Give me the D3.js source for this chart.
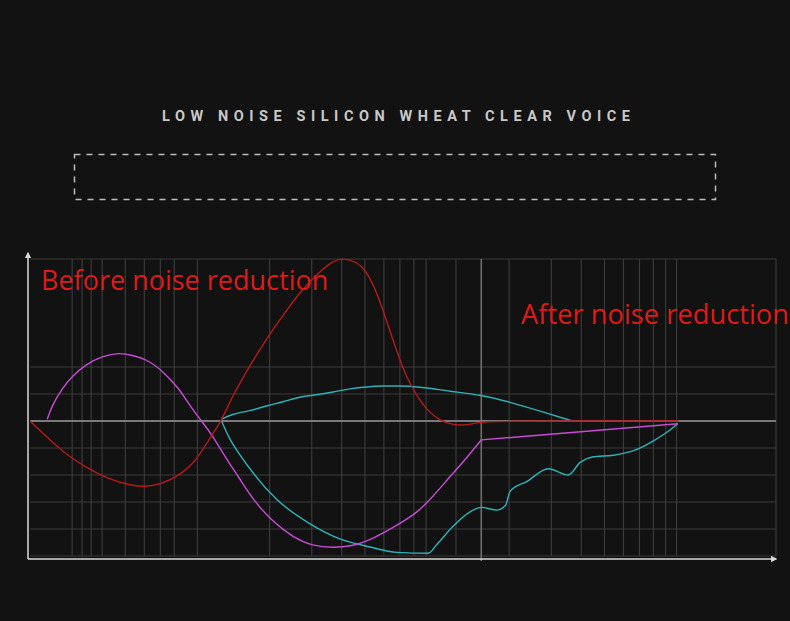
<!DOCTYPE html>
<html>
<head>
<meta charset="utf-8">
<script src="https://cdn.jsdelivr.net/npm/d3@7"></script>
<style>
  body { margin: 0; background: #121212; }
  svg { display: block; }
</style>
</head>
<body>
<div id="okvir"></div>
<script>
// Podaci ocitani sa slike (frekvencija u Hz, razina u dB)
const naslov = "LOW NOISE SILICON WHEAT CLEAR VOICE"
const oznakaPrije = "Before noise reduction"
const oznakaPoslije = "After noise reduction"

const gridFrekvencije = [30, 33, 36, 40, 50, 60, 70, 80, 100, 200, 300, 400, 500, 600, 700, 800, 900, 1200,
  2000, 3000, 4000, 5000, 6000, 7000, 8000, 9000, 10000, 26000]
const razdjelnik = 1530
const gridRazine = [18, 6, 3, -3, -6, -9, -12, -15]

const crvenaFrek = [20, 24.7, 29, 34, 42, 53, 61, 69, 84, 99, 112, 126, 140, 165, 194, 227, 267, 315, 367, 404,
  463, 509, 561, 618, 680, 749, 825, 908, 1030, 1170, 1340, 1480, 1530, 10200]
const crvenaDb = [0, -2.3, -3.9, -5.1, -6.4, -7.2, -7.3, -7.1, -6.1, -4.4, -2.0, 0, 2.8, 6.1, 9.1, 11.7, 14.3, 16.3, 17.8, 18.1,
  17.7, 16.6, 14.3, 11.0, 7.7, 4.7, 2.8, 1.2, 0, -0.45, -0.45, -0.2, 0, 0]

const magentaFrek = [23.6, 24.7, 27.2, 30, 34.3, 40, 47.2, 53.5, 61, 71.4, 84, 95, 105, 116, 132, 150, 170, 206, 250, 303,
  367, 445, 540, 700, 825, 962, 1130, 1340, 1530, 10100]
const magentaDb = [0.2, 1.7, 3.6, 5.0, 6.3, 7.2, 7.6, 7.3, 6.9, 5.6, 3.6, 1.3, -0.1, -1.7, -4.2, -6.4, -8.7, -11.2, -12.9, -13.9,
  -14.1, -13.9, -13.1, -11.4, -10.2, -8.4, -6.2, -4.0, -2.1, -0.3]

const cijanGoreFrek = [126, 140, 165, 194, 227, 267, 315, 367, 433, 509, 594, 700, 825, 962, 1130, 1530, 2020, 2780, 3670]
const cijanGoreDb = [0.2, 0.8, 1.1, 1.7, 2.1, 2.7, 2.9, 3.2, 3.6, 3.8, 3.9, 3.9, 3.8, 3.6, 3.3, 2.9, 2.1, 1.0, 0]

const cijanDoljeFrek = [126, 136, 150, 170, 214, 294, 393, 524, 680, 917, 1000, 1167, 1374, 1530, 1780, 1930, 2020, 2380,
  2910, 3530, 3960, 4450, 5450, 6610, 8010, 9170, 10100]
const cijanDoljeDb = [0, -1.9, -3.7, -5.7, -8.7, -11.4, -13.1, -14.0, -14.6, -14.7, -13.7, -11.7, -10.1, -9.6, -9.9, -9.4, -7.8, -6.7,
  -5.3, -6.0, -4.6, -4.0, -3.8, -3.3, -2.2, -1.2, -0.3]

function crtaj() {
  // Dimenzije
  const dimenzije = {
    sirina: 790,
    visina: 621,
    margine: { top: 259, left: 30 },
    grSirina: 746,
    grVisina: 297,
  }

  const okvir = d3.select("#okvir")
    .append("svg")
      .attr("width", dimenzije.sirina)
      .attr("height", dimenzije.visina)
      .style("background", "#121212")

  // Naslov i isprekidani okvir
  okvir.append("text")
      .attr("x", 396)
      .attr("y", 121)
      .attr("text-anchor", "middle")
      .attr("textLength", 468)
      .attr("lengthAdjust", "spacing")
      .style("font-family", "Roboto, 'DejaVu Sans', sans-serif")
      .style("font-weight", 700)
      .style("font-size", "14.5px")
      .style("fill", "#c8c8c8")
      .text(naslov)

  okvir.append("rect")
      .attr("x", 74.5)
      .attr("y", 154.5)
      .attr("width", 641)
      .attr("height", 45)
      .style("fill", "none")
      .style("stroke", "#bdbdbd")
      .style("stroke-width", 1.5)
      .style("stroke-dasharray", "6,6")

  const granice = okvir.append("g")
      .attr("transform", `translate(${dimenzije.margine.left}, ${dimenzije.margine.top})`)

  // Skale
  const xSkala = d3.scaleLog()
    .domain([20, 26000])
    .range([0, dimenzije.grSirina])

  const ySkala = d3.scaleLinear()
    .domain([-15, 18])
    .range([dimenzije.grVisina, 0])

  // Mreza
  granice.append("g")
    .selectAll("line")
    .data(gridRazine)
    .join("line")
      .attr("x1", 0)
      .attr("x2", dimenzije.grSirina)
      .attr("y1", d => ySkala(d))
      .attr("y2", d => ySkala(d))
      .style("stroke", "#3a3a3a")
      .style("stroke-width", 1.2)

  granice.append("g")
    .selectAll("line")
    .data(gridFrekvencije)
    .join("line")
      .attr("x1", d => xSkala(d))
      .attr("x2", d => xSkala(d))
      .attr("y1", 0)
      .attr("y2", dimenzije.grVisina)
      .style("stroke", "#3a3a3a")
      .style("stroke-width", 1.2)

  granice.append("line")
      .attr("x1", xSkala(razdjelnik))
      .attr("x2", xSkala(razdjelnik))
      .attr("y1", 0)
      .attr("y2", dimenzije.grVisina + 5)
      .style("stroke", "#6e6e6e")
      .style("stroke-width", 1.6)

  granice.append("line")
      .attr("x1", 0)
      .attr("x2", dimenzije.grSirina)
      .attr("y1", ySkala(0))
      .attr("y2", ySkala(0))
      .style("stroke", "#7a7a7a")
      .style("stroke-width", 2)

  // Osi sa strelicama
  const defs = okvir.append("defs")
  defs.append("marker")
      .attr("id", "strelica")
      .attr("viewBox", "0 0 10 10")
      .attr("refX", 8)
      .attr("refY", 5)
      .attr("markerWidth", 4)
      .attr("markerHeight", 4)
      .attr("orient", "auto")
    .append("path")
      .attr("d", "M0,0L10,5L0,10Z")
      .style("fill", "#d8d8d8")

  const osY = d3.axisLeft(ySkala).tickValues([]).tickSizeOuter(0)
  const osX = d3.axisBottom(xSkala).tickValues([]).tickSizeOuter(0)

  granice.append("g")
      .attr("transform", `translate(-2, 0)`)
      .call(osY)
    .select(".domain")
      .attr("d", `M0,${dimenzije.grVisina + 3}V-6`)
      .attr("marker-end", "url(#strelica)")
      .style("stroke", "#d0d0d0")
      .style("stroke-width", 1.6)

  granice.append("g")
      .attr("transform", `translate(0, ${dimenzije.grVisina + 3})`)
      .call(osX)
    .select(".domain")
      .attr("d", `M-2,0H${dimenzije.grSirina}`)
      .attr("marker-end", "url(#strelica)")
      .style("stroke", "#d8d8d8")
      .style("stroke-width", 1.6)

  // Krivulje
  const glatka = d3.line()
    .x(d => xSkala(d[0]))
    .y(d => ySkala(d[1]))
    .curve(d3.curveBasis)

  const lomljena = d3.line()
    .x(d => xSkala(d[0]))
    .y(d => ySkala(d[1]))
    .curve(d3.curveMonotoneX)

  const ravna = d3.line()
    .x(d => xSkala(d[0]))
    .y(d => ySkala(d[1]))

  const magenta = d3.zip(magentaFrek, magentaDb)

  const serije = [
    { tocke: d3.zip(cijanGoreFrek, cijanGoreDb), boja: "#2fb3b8", linija: glatka },
    { tocke: d3.zip(cijanDoljeFrek, cijanDoljeDb), boja: "#2fb3b8", linija: lomljena },
    { tocke: magenta.filter(d => d[0] <= razdjelnik), boja: "#c84cd6", linija: glatka },
    { tocke: magenta.filter(d => d[0] >= razdjelnik), boja: "#c84cd6", linija: ravna },
    { tocke: d3.zip(crvenaFrek, crvenaDb), boja: "#b8191b", linija: glatka },
  ]

  granice.append("g")
    .selectAll("path")
    .data(serije)
    .join("path")
      .attr("d", s => s.linija(s.tocke))
      .style("fill", "none")
      .style("stroke", s => s.boja)
      .style("stroke-width", 1.4)

  // Oznake
  okvir.append("text")
      .attr("x", 41)
      .attr("y", 290)
      .style("font-family", "'Open Sans', 'Noto Sans', sans-serif")
      .style("font-size", "27px")
      .style("fill", "#de1a1a")
      .text(oznakaPrije)

  okvir.append("text")
      .attr("x", 521)
      .attr("y", 324)
      .style("font-family", "'Open Sans', 'Noto Sans', sans-serif")
      .style("font-size", "27.3px")
      .style("fill", "#de1a1a")
      .text(oznakaPoslije)
}
crtaj()
</script>
</body>
</html>
